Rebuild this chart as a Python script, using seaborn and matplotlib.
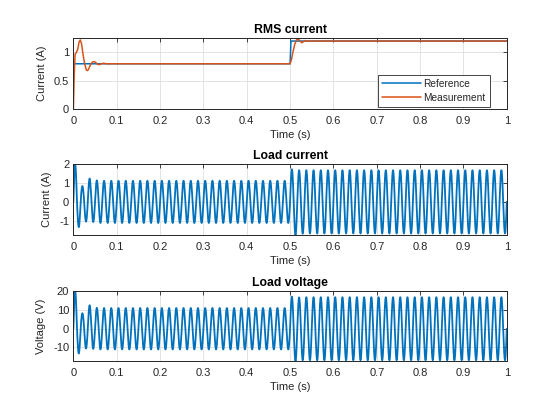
import numpy as np
import pandas as pd
import matplotlib
matplotlib.use('Agg')
import matplotlib.pyplot as plt
import matplotlib.ticker as mticker
import seaborn as sns

# --- data ---
freq = 60.0          # Hz, load current / voltage
t_step = 0.5         # s, reference step time
t_end = 1.0

# RMS reference (blue)
rms_ref_t = [0.0, 0.5, 0.502, 1.0]
rms_ref_v = [0.8, 0.8, 1.2, 1.2]

# RMS measurement (orange)
rms_meas_t = [0.0, 0.002, 0.004, 0.007, 0.010, 0.013, 0.016, 0.019, 0.022, 0.026,
              0.030, 0.033, 0.036, 0.040, 0.044, 0.048, 0.052, 0.056, 0.060, 0.065,
              0.070, 0.075, 0.080, 0.500, 0.503, 0.507, 0.511, 0.515, 0.518, 0.522,
              0.527, 0.531, 0.535, 0.540, 0.545, 0.550, 1.0]
rms_meas_v = [0.0, 0.60, 0.97, 1.00, 1.05, 1.18, 1.22, 1.15, 0.98, 0.80,
              0.69, 0.68, 0.72, 0.79, 0.83, 0.84, 0.82, 0.79, 0.785, 0.80,
              0.81, 0.80, 0.80, 0.80, 0.87, 1.02, 1.15, 1.22, 1.24, 1.21,
              1.17, 1.19, 1.21, 1.195, 1.20, 1.20, 1.20]

# half-cycle peak magnitudes of the load current
cur_start_peaks = [2.0, 1.34, 0.84, 1.05, 1.24, 1.07, 1.14]
cur_low = 1.12
cur_step_peaks = [1.73, 1.77, 1.68, 1.69]
cur_high = 1.68

# half-cycle peak magnitudes of the load voltage
volt_start_peaks = [20.2, 13.3, 8.3, 10.6, 12.6, 10.8, 11.2]
volt_low = 11.1
volt_step_peaks = [17.2, 17.4, 16.8, 16.9]
volt_high = 16.9

blue = '#0072BD'
orange = '#D95319'


def waveform(start_peaks, low, step_peaks, high):
    t = np.linspace(0, t_end, 10001)
    n_half = int(round(t_end * 2 * freq))
    n_step = int(round(t_step * 2 * freq))
    amps = [low] * n_half
    amps[:len(start_peaks)] = start_peaks
    amps[n_step:] = [high] * (n_half - n_step)
    amps[n_step:n_step + len(step_peaks)] = step_peaks
    k = np.minimum((t * 2 * freq).astype(int), n_half - 1)
    return t, np.array(amps)[k] * np.sin(2 * np.pi * freq * t)


t_w, i_load = waveform(cur_start_peaks, cur_low, cur_step_peaks, cur_high)
_, v_load = waveform(volt_start_peaks, volt_low, volt_step_peaks, volt_high)

sns.set_style('white')
plt.rcParams['font.family'] = ['Liberation Sans', 'DejaVu Sans']

fig = plt.figure(figsize=(5.6, 4.2), dpi=100)
ax1 = fig.add_axes([0.131, 0.740, 0.774, 0.169])
ax2 = fig.add_axes([0.131, 0.440, 0.774, 0.169])
ax3 = fig.add_axes([0.131, 0.140, 0.774, 0.167])

sns.lineplot(x=rms_ref_t, y=rms_ref_v, ax=ax1, color=blue, linewidth=1.1,
             label='Reference', estimator=None, sort=False)
sns.lineplot(x=rms_meas_t, y=rms_meas_v, ax=ax1, color=orange, linewidth=1.1,
             label='Measurement', estimator=None, sort=False)
sns.lineplot(x=t_w, y=i_load, ax=ax2, color=blue, linewidth=1.3, estimator=None, sort=False)
sns.lineplot(x=t_w, y=v_load, ax=ax3, color=blue, linewidth=1.3, estimator=None, sort=False)

ax1.set_ylim(0, 1.25)
ax1.set_yticks([0, 0.5, 1])
ax2.set_ylim(i_load.min(), i_load.max())
ax2.set_yticks([-1, 0, 1, 2])
ax3.set_ylim(v_load.min(), v_load.max())
ax3.set_yticks([-10, 0, 10, 20])

titles = ['RMS current', 'Load current', 'Load voltage']
ylabels = ['Current (A)', 'Current (A)', 'Voltage (V)']
fmt = mticker.FuncFormatter(lambda v, p: '{:g}'.format(round(v, 6)))
for ax, title, yl in zip([ax1, ax2, ax3], titles, ylabels):
    ax.set_xlim(0, 1)
    ax.set_xticks(np.arange(0, 1.01, 0.1))
    ax.xaxis.set_major_formatter(fmt)
    ax.yaxis.set_major_formatter(fmt)
    ax.set_title(title, fontsize=8.8, fontweight='bold', color='black', pad=4)
    ax.set_xlabel('Time (s)', fontsize=8, color='#262626', labelpad=3)
    ax.set_ylabel(yl, fontsize=8, color='#262626', labelpad=5)
    ax.grid(True, color='#dedede', linewidth=0.6)
    ax.set_axisbelow(True)
    ax.tick_params(direction='in', top=True, right=True, length=3, width=0.6,
                   colors='#262626', labelsize=8)
    ax.tick_params(axis='x', pad=5)
    ax.tick_params(axis='y', pad=3)
    for sp in ax.spines.values():
        sp.set_color('#262626')
        sp.set_linewidth(0.7)

leg = ax1.legend(loc='lower right', bbox_to_anchor=(0.961, 0.03), borderaxespad=0,
                 fontsize=7.3, fancybox=False, framealpha=1, edgecolor='#262626',
                 handlelength=3.8, borderpad=0.4, labelspacing=0.4, handletextpad=0.3)
leg.get_frame().set_linewidth(0.6)

fig.savefig('out.png', dpi=100)
